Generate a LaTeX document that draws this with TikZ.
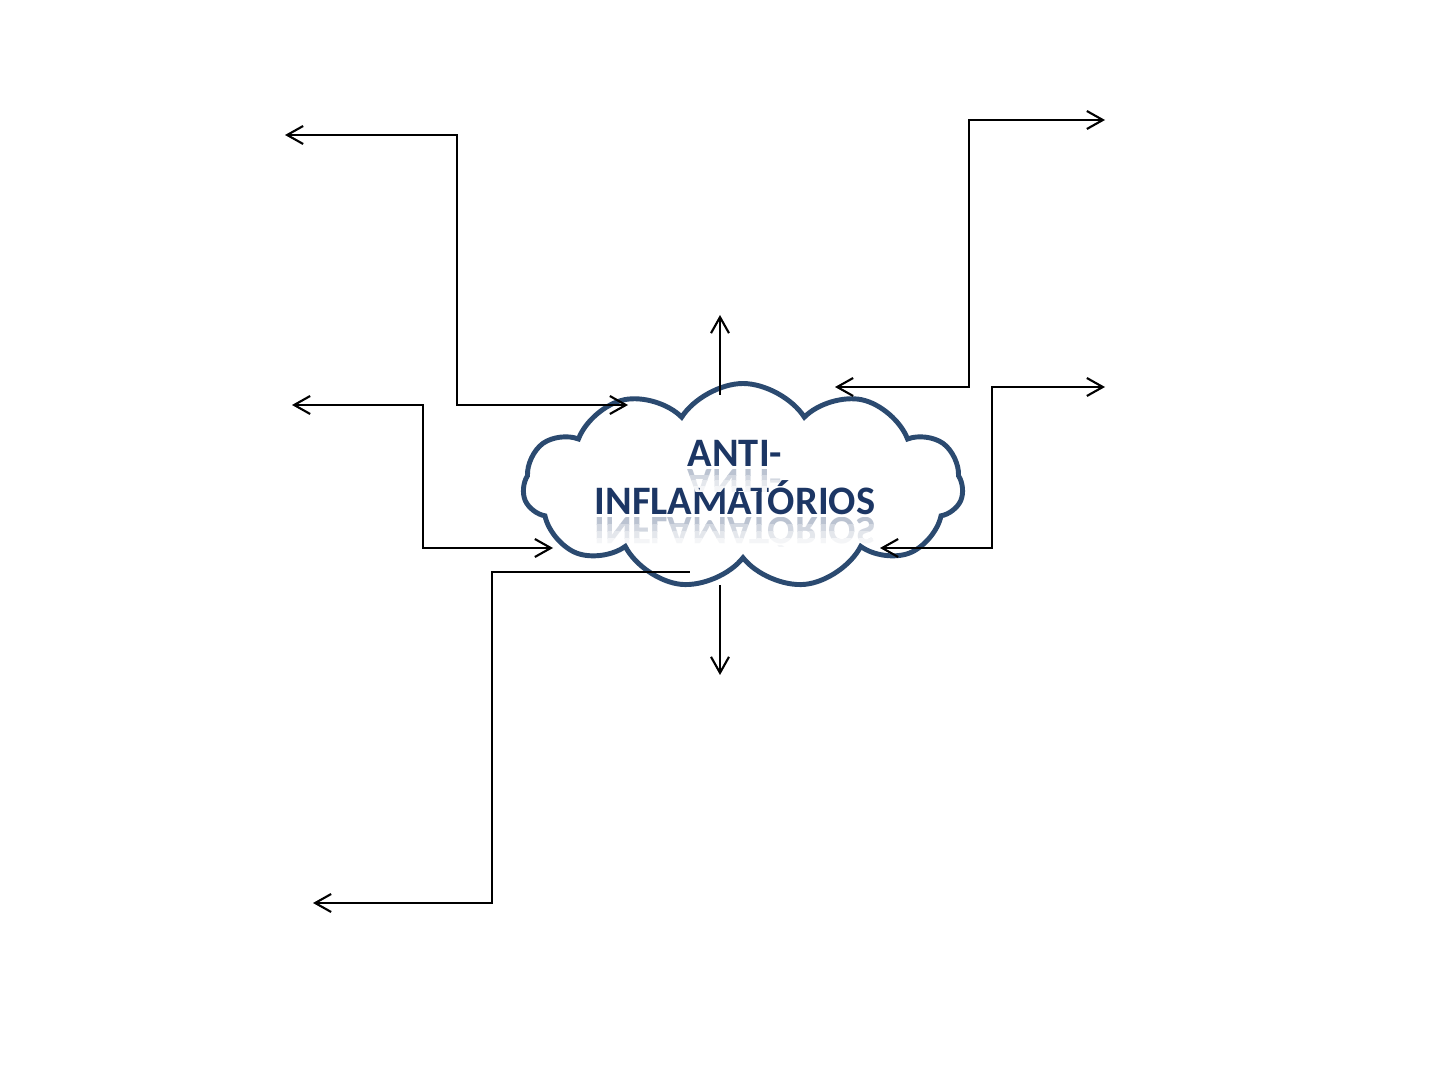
\documentclass[tikz,border=0pt]{standalone}
\usepackage{fontspec}
\setmainfont{Carlito}
\usetikzlibrary{positioning,arrows.meta,shapes.symbols}
\definecolor{cCloud}{HTML}{2B4A70}
\definecolor{cTitle}{HTML}{1C3664}

\tikzset{
  link/.style={draw=black,line width=0.6pt},
  title/.style={text=cTitle,font=\fontsize{11.5}{14}\selectfont\bfseries,inner sep=0pt},
  >={Straight Barb[length=1.6mm,width=1.8mm]},
}

\begin{document}
\begin{tikzpicture}
        \useasboundingbox (0,0) rectangle (14.4,-10.8);
        % cloud in the middle
        \node[cloud,cloud puffs=11,cloud puff arc=115,aspect=2.2,draw=cCloud,fill=white,
              line width=1.4pt,minimum width=4.4cm,minimum height=2.05cm,inner sep=0pt] (cloud) at (7.43,-4.86) {};
        \node[title,anchor=base] (lineA) at (7.35,-4.67) {ANTI-};
        \node[title,anchor=base] (lineB) at (7.35,-5.15) {INFLAMATÓRIOS};
        % reflection under the words
        \foreach \k/\c in {0/30,1/20,2/12,3/5}{
          \begin{scope}
            \clip (5.8,{-4.70-0.055*\k}) rectangle (9,{-4.70-0.055*(\k+1)});
            \node[title,text=cTitle!\c,anchor=base,yscale=-1] (reflA\k) at (7.35,-4.70) {ANTI-};
          \end{scope}
          \begin{scope}
            \clip (5.8,{-5.18-0.07*\k}) rectangle (9,{-5.18-0.07*(\k+1)});
            \node[title,text=cTitle!\c,anchor=base,yscale=-1] (reflB\k) at (7.35,-5.18) {INFLAMATÓRIOS};
          \end{scope}
        }
        % ends of the connectors
        \coordinate (tlOut) at (2.85,-1.35);
        \coordinate (tlIn) at (6.28,-4.05);
        \coordinate (mlOut) at (2.92,-4.05);
        \coordinate (mlIn) at (5.53,-5.48);
        \coordinate (blOut) at (3.13,-9.03);
        \coordinate (blIn) at (6.90,-5.72);
        \coordinate (upIn) at (7.20,-3.95);
        \coordinate (upOut) at (7.20,-3.15);
        \coordinate (dnIn) at (7.20,-5.85);
        \coordinate (dnOut) at (7.20,-6.75);
        \coordinate (trIn) at (8.35,-3.87);
        \coordinate (trOut) at (11.05,-1.20);
        \coordinate (mrIn) at (8.80,-5.48);
        \coordinate (mrOut) at (11.05,-3.87);
        % connectors
        \draw[link,<->] (tlOut) -- ++(1.72,0) |- (tlIn);
        \draw[link,<->] (mlOut) -- ++(1.31,0) |- (mlIn);
        \draw[link,<-] (blOut) -- ++(1.79,0) |- (blIn);
        \draw[link,->] (upIn) -- (upOut);
        \draw[link,->] (dnIn) -- (dnOut);
        \draw[link,<->] (trIn) -- ++(1.34,0) |- (trOut);
        \draw[link,<->] (mrIn) -- ++(1.12,0) |- (mrOut);
      \end{tikzpicture}
\end{document}
